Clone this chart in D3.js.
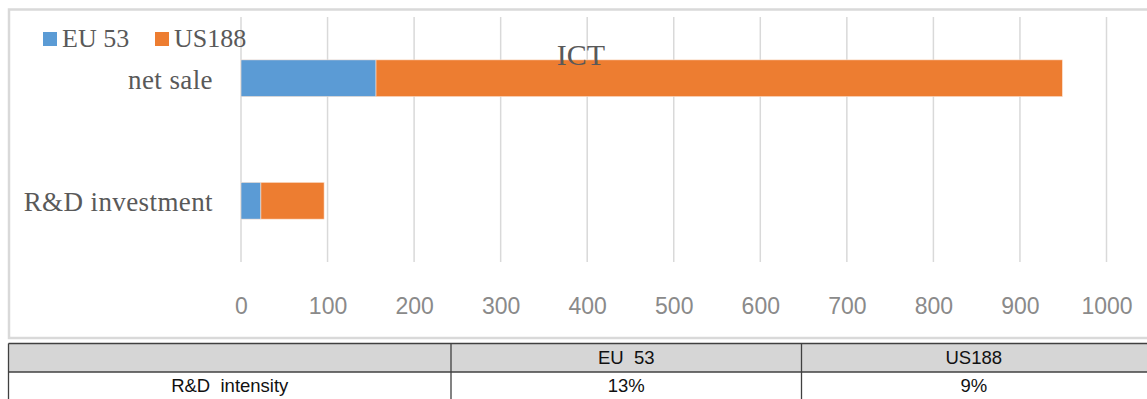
<!DOCTYPE html>
<html>
<head>
<meta charset="utf-8">
<script src="https://cdn.jsdelivr.net/npm/d3@7"></script>
<style>
  html, body { margin: 0; padding: 0; background: #fff; }
  svg { display: block; }
  text { white-space: pre; }
</style>
</head>
<body>
<script>
// ---- data ----
const title = "ICT";
const categories = ["net sale", "R&D investment"];
const seriesNames = ["EU 53", "US188"];
const euValues = [156, 23];
const usValues = [793, 73];
const xTicks = [0, 100, 200, 300, 400, 500, 600, 700, 800, 900, 1000];
const tableHeader = ["", "EU  53", "US188"];
const tableRow = ["R&D  intensity", "13%", "9%"];

const colors = ["#5b9bd5", "#ed7d31"];
const W = 1147, H = 399;

const svg = d3.select("body").append("svg").attr("width", W).attr("height", H);

// chart frame
svg.append("rect").attr("x", 9).attr("y", 9.5).attr("width", 1160).attr("height", 328.5)
  .attr("fill", "#fff").attr("stroke", "#d9d9d9").attr("stroke-width", 2.5);

const x = d3.scaleLinear().domain([0, 1000]).range([241, 1106.5]);
const y = d3.scaleBand().domain(categories).range([17, 262]).paddingInner(0.7).paddingOuter(0.35);

// gridlines
svg.append("g").selectAll("line").data(xTicks).join("line")
  .attr("x1", d => x(d)).attr("x2", d => x(d))
  .attr("y1", 17).attr("y2", 262)
  .attr("stroke", "#d9d9d9").attr("stroke-width", 1.5);

// stacked bars
const rows = categories.map((c, i) => ({ cat: c, EU: euValues[i], US: usValues[i] }));
const stack = d3.stack().keys(["EU", "US"])(rows);
svg.append("g").selectAll("g").data(stack).join("g")
  .attr("fill", (d, i) => colors[i])
  .selectAll("rect").data(d => d).join("rect")
  .attr("x", d => x(d[0]))
  .attr("width", d => x(d[1]) - x(d[0]))
  .attr("y", d => y(d.data.cat))
  .attr("height", y.bandwidth())
  .attr("stroke", "#fbe3d3").attr("stroke-width", 0.6);

// x axis labels
const xAxis = d3.axisBottom(x).tickValues(xTicks).tickFormat(d3.format("d")).tickSize(0).tickPadding(0);
const gx = svg.append("g").attr("transform", "translate(0,298)").call(xAxis);
gx.select(".domain").remove();
gx.selectAll("text")
  .attr("font-family", "Liberation Sans, Arial, sans-serif")
  .attr("font-size", 23).attr("fill", "#8a8a8a").attr("dy", "0.71em");

// category labels
const yAxis = d3.axisLeft(y).tickSize(0).tickPadding(28);
const gy = svg.append("g").attr("transform", "translate(241,0)").call(yAxis);
gy.select(".domain").remove();
gy.selectAll("text")
  .attr("font-family", "Liberation Serif, Times New Roman, serif")
  .attr("font-size", 27).attr("letter-spacing", 0.4).attr("fill", "#595959").attr("dy", "0.38em");

// title
svg.append("text").attr("x", 581).attr("y", 65).attr("text-anchor", "middle")
  .attr("font-family", "Liberation Serif, Times New Roman, serif")
  .attr("font-size", 30).attr("fill", "#595959").text(title);

// legend
const legendX = [43, 155];
const lg = svg.append("g").selectAll("g").data(seriesNames).join("g")
  .attr("transform", (d, i) => `translate(${legendX[i]},32)`);
lg.append("rect").attr("width", 14).attr("height", 14).attr("fill", (d, i) => colors[i]);
lg.append("text").attr("x", 19).attr("y", 15)
  .attr("font-family", "Liberation Serif, Times New Roman, serif")
  .attr("font-size", 26).attr("fill", "#595959").text(d => d);

// table
const colEdges = [8.5, 451, 801.5, 1146];
const rowEdges = [343.5, 372, 399.5];
const tbl = svg.append("g");
tbl.append("rect").attr("x", colEdges[0]).attr("y", rowEdges[0])
  .attr("width", colEdges[3] - colEdges[0] + 10).attr("height", rowEdges[1] - rowEdges[0])
  .attr("fill", "#d6d6d6");
// horizontal lines
tbl.selectAll("line.h").data(rowEdges.slice(0, 2)).join("line")
  .attr("x1", colEdges[0]).attr("x2", W).attr("y1", d => d).attr("y2", d => d)
  .attr("stroke", "#404040").attr("stroke-width", 1.3);
// vertical lines
tbl.selectAll("line.v").data(colEdges.slice(0, 3)).join("line")
  .attr("x1", d => d).attr("x2", d => d).attr("y1", rowEdges[0]).attr("y2", H)
  .attr("stroke", "#404040").attr("stroke-width", 1.3);
[tableHeader, tableRow].forEach((row, r) => {
  tbl.selectAll(null).data(row).join("text")
    .attr("x", (d, i) => (colEdges[i] + colEdges[i + 1]) / 2)
    .attr("y", (rowEdges[r] + rowEdges[r + 1]) / 2 + 6.5)
    .attr("text-anchor", "middle")
    .attr("font-family", "Liberation Sans, Arial, sans-serif")
    .attr("font-size", 18.5).attr("fill", "#111")
    .text(d => d);
});
</script>
</body>
</html>
